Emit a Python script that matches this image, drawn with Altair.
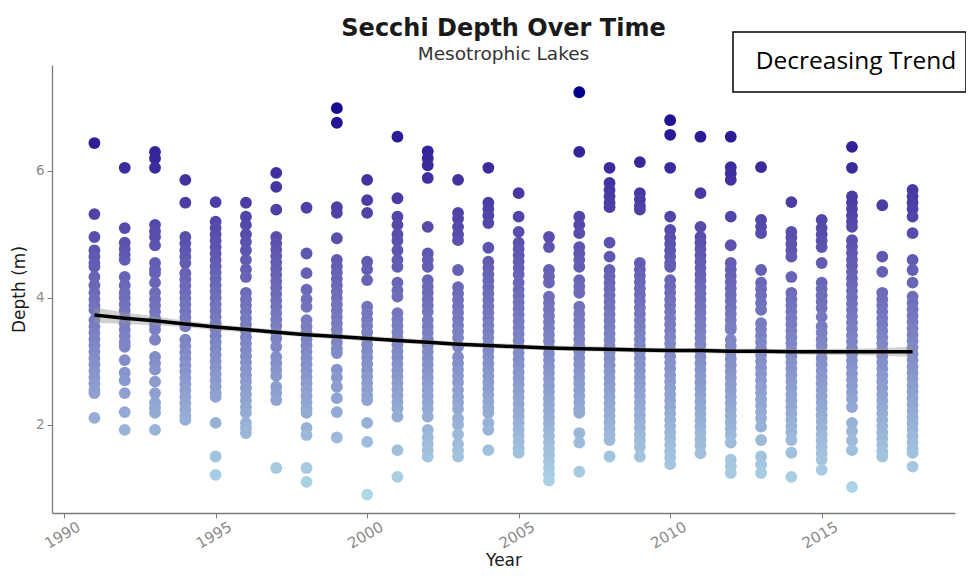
import altair as alt
import pandas as pd

# ---- data (Secchi depth, m) ----
years = list(range(1991, 2019))

y1991 = [6.44, 5.32, 4.96, 4.75, 4.65, 4.55, 4.49, 4.33, 4.2, 4.08, 3.98, 3.88, 3.81, 3.65, 3.55, 3.45, 3.35, 3.25, 3.15, 3.05, 2.95, 2.85, 2.75, 2.65, 2.55, 2.5, 2.11]
y1992 = [6.05, 5.1, 4.87, 4.77, 4.68, 4.6, 4.33, 4.2, 4.08, 4.0, 3.9, 3.8, 3.7, 3.6, 3.5, 3.4, 3.3, 3.23, 3.02, 2.82, 2.7, 2.5, 2.2, 1.92]
y1993 = [6.3, 6.2, 6.05, 5.15, 5.05, 4.96, 4.83, 4.55, 4.45, 4.39, 4.24, 4.08, 3.98, 3.88, 3.78, 3.68, 3.58, 3.5, 3.34, 3.07, 2.97, 2.87, 2.68, 2.5, 2.35, 2.27, 2.19, 1.92]
y1994 = [5.86, 5.5, 4.96, 4.86, 4.75, 4.65, 4.55, 4.39, 4.29, 4.19, 4.09, 3.99, 3.89, 3.79, 3.69, 3.6, 3.55, 3.34, 3.24, 3.14, 3.04, 2.94, 2.84, 2.74, 2.64, 2.54, 2.44, 2.34, 2.24, 2.14, 2.08]
y1995 = [5.51, 5.2, 5.1, 5.0, 4.9, 4.8, 4.7, 4.6, 4.5, 4.4, 4.3, 4.2, 4.1, 4.0, 3.9, 3.8, 3.7, 3.6, 3.5, 3.4, 3.3, 3.2, 3.1, 3.0, 2.9, 2.8, 2.7, 2.6, 2.5, 2.44, 2.03, 1.5, 1.21]
y1996 = [5.5, 5.28, 5.15, 5.0, 4.88, 4.75, 4.6, 4.45, 4.33, 4.08, 3.98, 3.88, 3.78, 3.68, 3.58, 3.48, 3.38, 3.28, 3.18, 3.08, 2.98, 2.88, 2.78, 2.68, 2.58, 2.48, 2.38, 2.28, 2.19, 2.03, 1.95, 1.87]
y1997 = [5.97, 5.75, 5.39, 4.96, 4.86, 4.76, 4.66, 4.56, 4.46, 4.36, 4.26, 4.16, 4.06, 3.96, 3.86, 3.76, 3.66, 3.56, 3.46, 3.36, 3.23, 3.07, 2.97, 2.87, 2.77, 2.6, 2.5, 2.39, 1.32]
y1998 = [5.42, 4.7, 4.39, 4.13, 3.98, 3.86, 3.65, 3.55, 3.45, 3.35, 3.25, 3.15, 3.05, 2.95, 2.85, 2.75, 2.65, 2.55, 2.45, 2.35, 2.25, 2.19, 1.95, 1.84, 1.32, 1.1]
y1999 = [6.99, 6.76, 5.43, 5.34, 4.94, 4.6, 4.5, 4.4, 4.3, 4.2, 4.1, 4.0, 3.9, 3.8, 3.7, 3.6, 3.5, 3.4, 3.3, 3.2, 3.13, 2.87, 2.75, 2.6, 2.42, 2.2, 1.8]
y2000 = [5.86, 5.54, 5.34, 4.57, 4.45, 4.28, 3.86, 3.76, 3.66, 3.56, 3.46, 3.36, 3.26, 3.16, 3.06, 2.96, 2.86, 2.76, 2.66, 2.56, 2.46, 2.39, 2.03, 1.73, 0.9]
y2001 = [6.54, 5.57, 5.28, 5.15, 5.0, 4.9, 4.75, 4.6, 4.49, 4.24, 4.12, 4.02, 3.76, 3.66, 3.56, 3.46, 3.36, 3.26, 3.16, 3.06, 2.96, 2.86, 2.76, 2.66, 2.56, 2.46, 2.36, 2.26, 2.13, 1.6, 1.18]
y2002 = [6.31, 6.2, 6.09, 5.89, 5.12, 4.7, 4.6, 4.49, 4.28, 4.18, 4.08, 3.98, 3.88, 3.78, 3.65, 3.55, 3.45, 3.35, 3.25, 3.15, 3.05, 2.95, 2.85, 2.75, 2.65, 2.55, 2.45, 2.35, 2.25, 2.13, 1.92, 1.8, 1.7, 1.6, 1.5]
y2003 = [5.86, 5.34, 5.25, 5.12, 5.0, 4.91, 4.44, 4.17, 4.07, 3.97, 3.87, 3.77, 3.67, 3.57, 3.47, 3.37, 3.23, 3.07, 2.97, 2.87, 2.77, 2.67, 2.55, 2.44, 2.35, 2.25, 2.1, 2.0, 1.85, 1.7, 1.6, 1.5]
y2004 = [6.05, 5.5, 5.4, 5.3, 5.18, 4.79, 4.57, 4.47, 4.37, 4.27, 4.17, 4.07, 3.97, 3.87, 3.77, 3.67, 3.57, 3.47, 3.37, 3.27, 3.17, 3.07, 2.97, 2.87, 2.77, 2.67, 2.57, 2.47, 2.37, 2.27, 2.19, 2.03, 1.92, 1.6]
y2005 = [5.65, 5.28, 5.04, 4.87, 4.77, 4.67, 4.57, 4.47, 4.37, 4.24, 4.13, 4.03, 3.93, 3.83, 3.73, 3.63, 3.53, 3.43, 3.33, 3.23, 3.13, 3.03, 2.93, 2.83, 2.73, 2.63, 2.53, 2.43, 2.33, 2.23, 2.13, 2.03, 1.93, 1.83, 1.73, 1.63, 1.56]
y2006 = [4.96, 4.8, 4.44, 4.34, 4.24, 4.02, 3.92, 3.82, 3.72, 3.62, 3.52, 3.42, 3.32, 3.22, 3.12, 3.02, 2.92, 2.82, 2.72, 2.62, 2.52, 2.42, 2.32, 2.22, 2.12, 2.02, 1.92, 1.82, 1.72, 1.62, 1.52, 1.42, 1.32, 1.22, 1.12]
y2007 = [7.24, 6.3, 5.28, 5.15, 5.02, 4.8, 4.7, 4.6, 4.49, 4.28, 4.18, 4.08, 3.86, 3.75, 3.65, 3.55, 3.45, 3.35, 3.25, 3.15, 3.05, 2.95, 2.85, 2.75, 2.65, 2.55, 2.45, 2.35, 2.25, 2.19, 1.87, 1.72, 1.26]
y2008 = [6.05, 5.81, 5.7, 5.6, 5.5, 5.43, 4.87, 4.65, 4.44, 4.34, 4.24, 4.14, 4.04, 3.94, 3.84, 3.74, 3.64, 3.54, 3.44, 3.34, 3.24, 3.14, 3.04, 2.94, 2.84, 2.74, 2.64, 2.54, 2.44, 2.34, 2.24, 2.14, 2.04, 1.94, 1.84, 1.76, 1.5]
y2009 = [6.14, 5.65, 5.55, 5.45, 5.39, 4.55, 4.45, 4.35, 4.25, 4.15, 4.05, 3.95, 3.85, 3.75, 3.65, 3.55, 3.45, 3.35, 3.25, 3.15, 3.05, 2.95, 2.85, 2.75, 2.65, 2.55, 2.45, 2.35, 2.25, 2.15, 2.05, 1.95, 1.85, 1.75, 1.65, 1.5]
y2010 = [6.8, 6.57, 6.05, 5.28, 5.07, 4.95, 4.85, 4.75, 4.65, 4.55, 4.49, 4.28, 4.18, 4.08, 3.98, 3.88, 3.78, 3.68, 3.58, 3.48, 3.38, 3.28, 3.18, 3.08, 2.98, 2.88, 2.78, 2.68, 2.58, 2.48, 2.38, 2.28, 2.18, 2.08, 1.98, 1.88, 1.78, 1.68, 1.58, 1.48, 1.38]
y2011 = [6.54, 5.65, 5.12, 4.96, 4.87, 4.77, 4.67, 4.57, 4.47, 4.37, 4.27, 4.17, 4.07, 3.97, 3.87, 3.77, 3.67, 3.57, 3.47, 3.37, 3.27, 3.17, 3.07, 2.97, 2.87, 2.77, 2.67, 2.57, 2.47, 2.37, 2.27, 2.17, 2.07, 1.97, 1.87, 1.77, 1.67, 1.55]
y2012 = [6.54, 6.06, 5.96, 5.86, 5.28, 4.83, 4.55, 4.45, 4.35, 4.25, 4.15, 4.05, 3.95, 3.85, 3.75, 3.65, 3.55, 3.5, 3.34, 3.24, 3.14, 3.04, 2.94, 2.84, 2.74, 2.64, 2.54, 2.44, 2.34, 2.24, 2.14, 2.04, 1.94, 1.84, 1.72, 1.45, 1.35, 1.24]
y2013 = [6.06, 5.23, 5.12, 5.02, 4.44, 4.24, 4.14, 4.04, 3.92, 3.81, 3.6, 3.5, 3.4, 3.3, 3.2, 3.1, 3.0, 2.9, 2.8, 2.7, 2.6, 2.5, 2.4, 2.3, 2.2, 2.1, 1.97, 1.76, 1.5, 1.37, 1.24]
y2014 = [5.51, 5.04, 4.95, 4.85, 4.75, 4.65, 4.33, 4.08, 3.98, 3.88, 3.78, 3.68, 3.58, 3.48, 3.38, 3.28, 3.18, 3.08, 2.98, 2.88, 2.78, 2.68, 2.58, 2.48, 2.38, 2.28, 2.18, 2.08, 1.98, 1.88, 1.76, 1.56, 1.18]
y2015 = [5.23, 5.1, 5.0, 4.9, 4.8, 4.55, 4.24, 4.14, 4.04, 3.94, 3.84, 3.7, 3.55, 3.45, 3.35, 3.25, 3.15, 3.05, 2.95, 2.85, 2.75, 2.65, 2.55, 2.45, 2.35, 2.25, 2.15, 2.05, 1.95, 1.85, 1.75, 1.65, 1.55, 1.45, 1.29]
y2016 = [6.38, 6.05, 5.6, 5.5, 5.4, 5.3, 5.2, 5.12, 4.91, 4.81, 4.71, 4.61, 4.51, 4.41, 4.31, 4.21, 4.11, 4.01, 3.91, 3.81, 3.71, 3.61, 3.51, 3.41, 3.31, 3.21, 3.11, 3.01, 2.91, 2.81, 2.71, 2.61, 2.51, 2.41, 2.28, 2.03, 1.9, 1.75, 1.6, 1.02]
y2017 = [5.46, 4.65, 4.41, 4.08, 3.98, 3.88, 3.78, 3.68, 3.58, 3.48, 3.38, 3.28, 3.18, 3.08, 2.98, 2.88, 2.78, 2.68, 2.58, 2.48, 2.38, 2.28, 2.18, 2.08, 1.98, 1.88, 1.78, 1.68, 1.58, 1.5]
y2018 = [5.7, 5.6, 5.5, 5.4, 5.28, 5.02, 4.6, 4.44, 4.24, 4.02, 3.92, 3.82, 3.72, 3.62, 3.52, 3.42, 3.32, 3.22, 3.12, 3.02, 2.92, 2.82, 2.72, 2.62, 2.52, 2.42, 2.32, 2.22, 2.12, 2.02, 1.92, 1.82, 1.72, 1.62, 1.56, 1.34]

columns = [y1991, y1992, y1993, y1994, y1995, y1996, y1997, y1998, y1999, y2000,
           y2001, y2002, y2003, y2004, y2005, y2006, y2007, y2008, y2009, y2010,
           y2011, y2012, y2013, y2014, y2015, y2016, y2017, y2018]

# smooth trend and its confidence band half-width
trend_fit = [3.73, 3.68, 3.64, 3.59, 3.54, 3.50, 3.46, 3.42, 3.39, 3.36, 3.33, 3.30, 3.27, 3.25,
             3.23, 3.21, 3.20, 3.19, 3.18, 3.17, 3.17, 3.16, 3.16, 3.15, 3.15, 3.15, 3.15, 3.15]
trend_half = [0.12, 0.09, 0.07, 0.05, 0.05, 0.04, 0.04, 0.04, 0.04, 0.04, 0.04, 0.04, 0.04, 0.04,
              0.04, 0.04, 0.04, 0.04, 0.04, 0.04, 0.04, 0.04, 0.04, 0.04, 0.05, 0.05, 0.06, 0.08]

rows = []
for yr, vals in zip(years, columns):
    for v in vals:
        rows.append({"year": yr, "depth": v})
pts = pd.DataFrame(rows)

trend = pd.DataFrame({
    "year": years,
    "fit": trend_fit,
    "lo": [f - h for f, h in zip(trend_fit, trend_half)],
    "hi": [f + h for f, h in zip(trend_fit, trend_half)],
})

FONT = "DejaVu Sans"
AXIS_GREY = "#7a7a7a"

xscale = alt.Scale(domain=[1989.6, 2019.4], nice=False, zero=False)
yscale = alt.Scale(domain=[0.61, 7.67], nice=False, zero=False)

xaxis = alt.Axis(values=[1990, 1995, 2000, 2005, 2010, 2015], format="d", labelAngle=330,
                 labelAlign="right", labelBaseline="top", labelFontSize=15, labelColor="#8a8a8a",
                 labelFont=FONT, labelPadding=1, labelOffset=11, grid=False,
                 domainColor=AXIS_GREY, domainWidth=1.3, tickColor=AXIS_GREY, tickSize=5,
                 title="Year", titleFont=FONT, titleFontSize=17, titleFontWeight="normal",
                 titleColor="#1a1a1a", titlePadding=1)
yaxis = alt.Axis(values=[2, 4, 6], format="d", labelFontSize=13.5, labelColor="#8a8a8a",
                 labelFont=FONT, labelPadding=3, grid=False, domainColor=AXIS_GREY,
                 domainWidth=1.3, tickColor=AXIS_GREY, tickSize=5, title="Depth (m)",
                 titleFont=FONT, titleFontSize=17, titleFontWeight="normal",
                 titleColor="#1a1a1a", titlePadding=7)

points = alt.Chart(pts).mark_circle(size=140, opacity=1).encode(
    x=alt.X("year:Q", scale=xscale, axis=xaxis),
    y=alt.Y("depth:Q", scale=yscale, axis=yaxis),
    color=alt.Color("depth:Q", legend=None,
                    scale=alt.Scale(range=["#ADD8E6", "#00008B"], interpolate="lab", zero=False)),
)

band = alt.Chart(trend).mark_area(color="#999999", opacity=0.45).encode(
    x=alt.X("year:Q", scale=xscale), y=alt.Y("lo:Q", scale=yscale), y2="hi:Q"
)
line = alt.Chart(trend).mark_line(color="#000000", strokeWidth=3.5).encode(
    x=alt.X("year:Q", scale=xscale), y=alt.Y("fit:Q", scale=yscale)
)

one = alt.Data(values=[{"a": 1}])
box = alt.Chart(one).mark_rect(fill="white", stroke="black", strokeWidth=1.5).encode(
    x=alt.value(681), x2=alt.value(914), y=alt.value(-33), y2=alt.value(27)
)
label = alt.Chart(one).mark_text(text="Decreasing Trend", font="Open Sans", fontSize=24.5,
                                 color="black", align="center", baseline="middle").encode(
    x=alt.value(804), y=alt.value(-3)
)

chart = alt.layer(points, band, line, box, label).properties(
    width=903, height=448,
    title=alt.TitleParams(text="Secchi Depth Over Time", subtitle="Mesotrophic Lakes",
                          anchor="middle", font=FONT, fontSize=24, fontWeight="bold",
                          color="#1a1a1a", subtitleFont=FONT, subtitleFontSize=18.5,
                          subtitleColor="#333333", subtitlePadding=4, offset=6, dy=38),
    padding={"left": 44, "top": 57, "right": 11, "bottom": 56},
    autosize=alt.AutoSizeParams(type="none"),
).configure(background="white").configure_view(stroke=None)

chart.save("out.html", embed_options={"renderer": "svg", "actions": False})
